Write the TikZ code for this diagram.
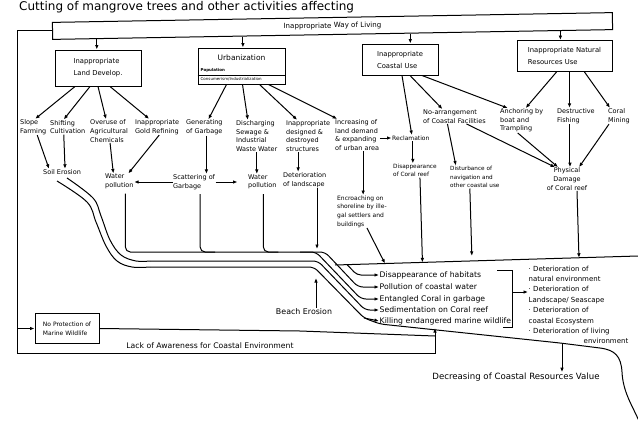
\documentclass[tikz,border=0pt]{standalone}
\usepackage{fontspec}
\setmainfont{DejaVu Sans}
\usetikzlibrary{arrows.meta,calc}
\begin{document}
\begin{tikzpicture}[x=1pt,y=-1pt,
  every node/.style={inner sep=0.5pt},
  ln/.style={line width=1pt},
  arr/.style={line width=1pt,-{Latex[length=4.5pt,width=3.6pt]}},
  itm/.style={anchor=west,align=left,font=\fontsize{6.5}{8.6}\selectfont},
  bx/.style={draw,line width=1pt,align=left,font=\fontsize{6.8}{12}\selectfont},
  big/.style={anchor=west,font=\fontsize{7.7}{9}\selectfont},
]
\fill[white] (0,0) rectangle (638,421);
\useasboundingbox (0,0) rectangle (638,421);

% title
\node[anchor=base west,inner sep=0,font=\fontsize{12}{14}\selectfont] (title) at (19,10) {Cutting of mangrove trees and other activities affecting};

% top box
\node[draw,ln,rotate=1,minimum width=560pt,minimum height=17pt,font=\fontsize{7.1}{8}\selectfont] (top) at (332.5,26) {Inappropriate Way of Living};

% category boxes
\node[bx,minimum width=86pt,minimum height=36pt] (land) at (98,68) {Inappropriate\\Land Develop.};
\node[draw,ln,minimum width=87pt,minimum height=36pt] (urb) at (241.5,66) {};
\node[font=\fontsize{7.5}{8}\selectfont] (urbt) at (241.5,58) {Urbanization};
\node[anchor=west,font=\fontsize{4}{5}\selectfont\bfseries] (pop) at (200,70) {Population};
\draw[line width=0.6pt] ([yshift=-9pt]urb.west) -- ([yshift=-9pt]urb.east);
\node[anchor=west,font=\fontsize{4}{5}\selectfont] (cons) at (200,79.5) {Consumerism/Industrialization};
\node[bx,minimum width=76pt,minimum height=31pt] (coast) at (400,59.5) {Inappropriate\\Coastal Use};
\node[bx,minimum width=95pt,minimum height=31pt] (nat) at (564.5,56) {Inappropriate Natural\\Resources Use};

\foreach \b/\t in {land/0.0795,urb/0.340,coast/0.6384,nat/0.906}
  \draw[arr] ($(top.south west)!\t!(top.south east)$) coordinate (tmp) -- (tmp |- \b.north);

% second row
\node[itm] (slope) at (19.5,127) {Slope\\Farming};
\node[itm] (shift) at (49.5,127) {Shifting\\Cultivation};
\node[itm] (overuse) at (89.5,131) {Overuse of\\Agricultural\\Chemicals};
\node[itm] (gold) at (134.5,127) {Inappropriate\\Gold Refining};
\node[itm] (gen) at (185.5,127.5) {Generating\\of Garbage};
\node[itm] (dis) at (235.5,136) {Discharging\\Sewage \&\\Industrial\\Waste Water};
\node[itm] (inap) at (285.5,136) {Inappropriate\\designed \&\\destroyed\\structures};
\node[itm] (incr) at (334.5,135) {Increasing of\\land demand\\\& expanding\\of urban area};
\node[itm,font=\fontsize{6}{8}\selectfont] (recl) at (391.5,138) {Reclamation};
\node[itm] (noarr) at (422.5,116.5) {No-arrangement\\of Coastal Facilities};
\node[itm] (anch) at (499.5,120.5) {Anchoring by\\boat and\\Trampling};
\node[itm] (destr) at (556.5,116) {Destructive\\Fishing};
\node[itm] (coral) at (607.5,116) {Coral\\Mining};

% third row
\node[itm] (soil) at (42.5,172) {Soil Erosion};
\node[itm] (wp1) at (104.5,181.5) {Water\\pollution};
\node[itm] (scat) at (172.5,182) {Scattering of\\Garbage};
\node[itm] (wp2) at (247.5,182) {Water\\pollution};
\node[itm] (deter) at (282.5,180) {Deterioration\\of landscape};
\node[itm,font=\fontsize{6}{8.6}\selectfont] (encr) at (336.5,211.5) {Encroaching on\\shoreline by ille-\\gal settlers and\\buildings};
\node[itm,font=\fontsize{5.8}{8.4}\selectfont] (disc) at (392.5,170.5) {Disappearance\\of Coral reef};
\node[itm,font=\fontsize{5.7}{8.6}\selectfont] (dist) at (449.5,177) {Disturbance of\\navigation and\\other coastal use};
\node[align=center,font=\fontsize{6.5}{8.6}\selectfont] (phys) at (567,179) {Physical\\Damage\\of Coral reef};

% arrows from Land Develop.
\draw[arr] ([xshift=-23pt]land.south) -- ([xshift=2pt]slope.north);
\draw[arr] ([xshift=-8pt]land.south) -- ([xshift=-4pt]shift.north);
\draw[arr] (land.south) -- ([xshift=-3pt]overuse.north);
\draw[arr] ([xshift=12pt]land.south) -- ([xshift=-8pt]gold.north);
\draw[arr] ([xshift=4pt]slope.south) -- ([xshift=-13pt]soil.north);
\draw[arr] ([xshift=-4pt]shift.south) -- ([xshift=3pt]soil.north);
\draw[arr] ([xshift=1pt]overuse.south) -- ([xshift=-6pt]wp1.north);
\draw[arr] ([xshift=2pt]gold.south) -- ([xshift=9pt]wp1.north);

% arrows from Urbanization
\draw[arr] ([xshift=-15pt]urb.south) -- ([xshift=4pt]gen.north);
\draw[arr] ([xshift=1pt]urb.south) -- ([xshift=-9pt]dis.north);
\draw[arr] ([xshift=18pt]urb.south) -- ([xshift=-11pt]inap.north);
\draw[arr] ([xshift=27pt]urb.south) -- ([xshift=-20pt]incr.north);
\draw[arr] ([xshift=2pt]gen.south) -- ([xshift=2pt]gen.south |- scat.north);
\draw[arr] (scat.west) -- (scat.west -| wp1.east);
\draw[arr] (scat.east) -- ([xshift=-10pt]wp2.west |- scat.east);
\draw[arr] (dis.south) -- (dis.south |- wp2.north);
\draw[arr] ([xshift=-10pt]inap.south) -- ([xshift=-10pt]inap.south |- deter.north);
\draw[arr] (incr.east |- recl.west) -- (recl.west);
\draw[arr] ([xshift=6pt]incr.south) -- ([xshift=6pt]incr.south |- encr.north);

% arrows from Coastal Use and Natural Resources
\draw[arr] ([xshift=2pt]coast.south) -- ([xshift=1pt]recl.north);
\draw[arr] ([xshift=10pt]coast.south) -- ([xshift=-12pt]noarr.north);
\draw[arr] ([xshift=22pt]coast.south) -- ([xshift=-14pt]anch.north);
\draw[arr] ([xshift=-8pt]nat.south) -- ([xshift=4pt]anch.north);
\draw[arr] ([xshift=5pt]nat.south) -- ([xshift=5pt]nat.south |- destr.north);
\draw[arr] ([xshift=20pt]nat.south) -- ([xshift=-9pt]coral.north);
\draw[arr] ([xshift=2pt]recl.south) -- ([xshift=2pt]recl.south |- disc.north);
\draw[arr] ([xshift=-7pt]noarr.south) -- ([xshift=-19pt]dist.north);
\draw[arr] ([xshift=12pt]noarr.south) -- ([xshift=-12pt]phys.north);
\draw[arr] ([xshift=-4pt]anch.south) -- ([xshift=-9pt]phys.north);
\draw[arr] ([xshift=-6pt]destr.south) -- ([xshift=-6pt]destr.south |- phys.north);
\draw[arr] ([xshift=-10pt]coral.south) -- ([xshift=12pt]phys.north);

% right collector line
\coordinate (cL) at (335,265);
\coordinate (cR) at (638,256);
\draw[ln] (cL) -- (cR);
\coordinate (d1) at ([xshift=5pt]disc.south);
\coordinate (d2) at ([xshift=-5pt]dist.south);
\coordinate (d3) at ([xshift=10pt]phys.south);
\coordinate (d4) at ([xshift=5pt]encr.south);
\draw[arr] (d1) -- ($(cL)!(d1)!(cR)$);
\draw[arr,shorten >=5pt] (d2) -- ($(cL)!(d2)!(cR)$);
\draw[arr] (d3) -- ($(cL)!(d3)!(cR)$);
\draw[arr] (d4) -- ($(cL)!0.165!(cR)$);

% effects list
\node[big] (hab) at (379,275) {Disappearance of habitats};
\node[big] (pol) at (379,287) {Pollution of coastal water};
\node[big] (ent) at (379,299) {Entangled Coral in garbage};
\node[big] (sed) at (379,310) {Sedimentation on Coral reef};
\node[big] (kil) at (379,321) {Killing endangered marine wildlife};

% collector of water pollution / garbage / landscape
\coordinate (h1) at (0,252);
\coordinate (v1) at ([xshift=6pt,yshift=-4pt]wp1.south);
\coordinate (v2) at ([xshift=6pt,yshift=-4pt]scat.south);
\coordinate (v3) at ([xshift=1pt,yshift=-4pt]wp2.south);
\draw[arr,rounded corners=5pt] (v1) -- (v1 |- h1) -- (325,252) -- (358,287) -- (pol.west);
\draw[arr,rounded corners=5pt] (300,252) -- (316,252) -- (361,299) -- (ent.west);
\draw[ln,rounded corners=5pt] (v2) -- (v2 |- h1) -- ++(15,0);
\draw[ln,rounded corners=5pt] (v3) -- (v3 |- h1) -- ++(15,0);
\coordinate (dA) at (317,249);
\draw[arr] (deter.south -| dA) -- (dA);
\draw[arr,rounded corners=4pt] ($(cL)!0.04!(cR)$) -- (357,275) -- (hab.west);

% soil erosion channel
\draw[ln] plot[smooth,tension=0.6] coordinates {(67,178) (93,198) (101,216) (110,240) (121,255) (136,261) (150,261)};
\draw[arr,rounded corners=5pt] (150,261) -- (318,261) -- (365,310) -- (sed.west);
\draw[ln] plot[smooth,tension=0.6] coordinates {(57,181) (87,202) (96,222) (106,246) (117,261) (132,267) (150,267)};
\draw[ln,rounded corners=5pt] (150,267) -- (314,267) -- (364,318) -- (380,324) -- (560,343) -- (600,348);
\draw[ln] (600,348) .. controls (615,350) and (621,356) .. (622,372) .. controls (623,392) and (632,405) .. (639,421);
\coordinate (kA) at (364,318);
\draw[arr] (kA) -- (kil.west);

% beach erosion
\node[font=\fontsize{7.9}{9}\selectfont] (beach) at (304,312) {Beach Erosion};
\coordinate (bE) at (316,278);
\draw[arr] (beach.north -| bE) -- (bE);

% bracket and consequences
\coordinate (br1) at (497,270);
\coordinate (br2) at (512,270);
\coordinate (br3) at (512,327);
\coordinate (br4) at (503,327);
\coordinate (brm) at (512,292);
\draw[ln] (br1) -- (br2) -- (br3) -- (br4);
\node[anchor=north west,align=left,font=\fontsize{7}{10.4}\selectfont] (rlist) at (528,265) {· Deterioration of\\natural environment\\· Deterioration of\\Landscape/ Seascape\\· Deterioration of\\coastal Ecosystem\\· Deterioration of living\\\hspace*{55pt}environment};
\draw[arr] (brm) -- (brm -| rlist.west);

% lack of awareness / no protection
\node[draw,ln,align=left,font=\fontsize{6}{9}\selectfont,minimum width=64pt,minimum height=30pt] (np) at (67,328.5) {No Protection of\\Marine Wildlife};
\coordinate (lcA) at (17,0);
\coordinate (lcB) at (17,353);
\coordinate (lcC) at (435,353);
\coordinate (lcD) at (435,328);
\coordinate (lcE) at (435,336);
\draw[arr] (top.west) -- (top.west -| lcA) -- (lcB) -- (lcC) -- (lcD);
\draw[arr] (np.west -| lcA) -- (np.west);
\draw[ln] (np.east) -- (300,331) -- (lcE);
\node[font=\fontsize{7.7}{9}\selectfont] (lack) at (210,346) {Lack of Awareness for Coastal Environment};

% decreasing value
\node[font=\fontsize{8.6}{10}\selectfont] (decr) at (516,377) {Decreasing of Coastal Resources Value};
\coordinate (sh1) at (562,344);
\draw[arr] (sh1) -- (sh1 |- decr.north);
\end{tikzpicture}
\end{document}
